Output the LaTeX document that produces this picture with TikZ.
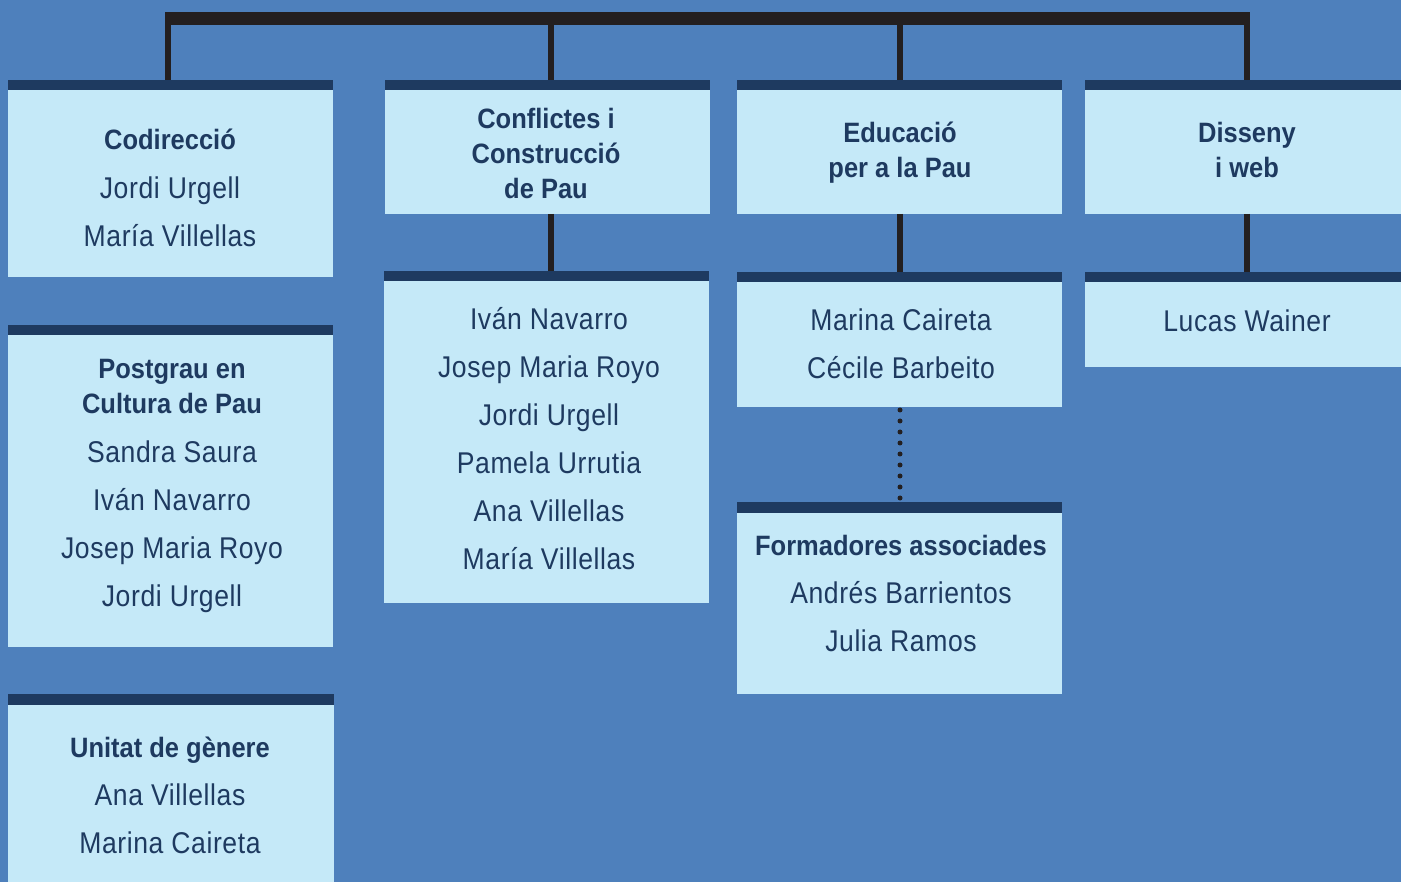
\documentclass[tikz,border=0pt]{standalone}
\usepackage{fontspec}
\setmainfont{Liberation Sans}[FakeStretch=0.91]
\newfontfamily\namefont{Liberation Sans}[FakeStretch=0.885,LetterSpace=2]
\definecolor{bgc}{HTML}{4E80BC}
\definecolor{boxc}{HTML}{C5E9F8}
\definecolor{barc}{HTML}{1E3A60}
\definecolor{navy}{HTML}{1E3A60}
\definecolor{linec}{HTML}{231F20}
\tikzset{
  box/.style={anchor=north west, fill=boxc, draw=none, inner sep=0, outer sep=0,
    path picture={\fill[barc] (path picture bounding box.north west) rectangle ([yshift=-10.5pt]path picture bounding box.north east);}},
  txt/.style={anchor=base, text=navy, inner sep=0, font=\namefont\fontsize{30}{36}\selectfont},
  ttl/.style={anchor=base, text=navy, inner sep=0, font=\bfseries\fontsize{28}{34}\selectfont},
  conn/.style={draw=linec, line width=6pt},
  topbar/.style={draw=linec, line width=13pt},
  dots/.style={draw=linec, line width=5pt, line cap=round, dash pattern=on 0pt off 11pt, dash phase=8pt}
}
\begin{document}
\begin{tikzpicture}[x=1pt,y=-1pt]
\useasboundingbox (0,0) rectangle (1401,882);
\fill[bgc] (0,0) rectangle (1401,882);
% boxes
\node[box, minimum width=325pt, minimum height=197pt] (c1a) at (8,80) {};
\node[box, minimum width=325pt, minimum height=322pt] (c1b) at (8,325) {};
\node[box, minimum width=326pt, minimum height=188pt] (c1c) at (8,694) {};
\node[box, minimum width=325pt, minimum height=134pt] (c2a) at (385,80) {};
\node[box, minimum width=325pt, minimum height=332pt] (c2b) at (384,271) {};
\node[box, minimum width=325pt, minimum height=134pt] (c3a) at (737,80) {};
\node[box, minimum width=325pt, minimum height=135pt] (c3b) at (737,272) {};
\node[box, minimum width=325pt, minimum height=192pt] (c3c) at (737,502) {};
\node[box, minimum width=316pt, minimum height=134pt] (c4a) at (1085,80) {};
\node[box, minimum width=316pt, minimum height=95pt] (c4b) at (1085,272) {};
% connectors
\coordinate (bl) at (165,19);
\coordinate (br) at (1250,19);
\coordinate (b1) at (168,19);
\coordinate (b2) at (551,19);
\coordinate (b3) at (900,19);
\coordinate (b4) at (1247,19);
\draw[topbar] (bl) -- (br);
\draw[conn] (b1) -- (b1 |- c1a.north);
\draw[conn] (b2) -- (b2 |- c2a.north);
\draw[conn] (b3) -- (b3 |- c3a.north);
\draw[conn] (b4) -- (b4 |- c4a.north);
\draw[conn] (b2 |- c2a.south) -- (b2 |- c2b.north);
\draw[conn] (b3 |- c3a.south) -- (b3 |- c3b.north);
\draw[conn] (b4 |- c4a.south) -- (b4 |- c4b.north);
\draw[dots] (b3 |- c3b.south) -- (b3 |- c3c.north);
% column 1
\node[ttl] (t1a1) at (170,150) {Codirecció};
\node[txt] (t1a2) at (170,198.5) {Jordi Urgell};
\node[txt] (t1a3) at (170,246.5) {María Villellas};
\node[ttl] (t1b1) at (172,379) {Postgrau en};
\node[ttl] (t1b2) at (172,414) {Cultura de Pau};
\node[txt] (t1b3) at (172,462.5) {Sandra Saura};
\node[txt] (t1b4) at (172,510.5) {Iván Navarro};
\node[txt] (t1b5) at (172,558.5) {Josep Maria Royo};
\node[txt] (t1b6) at (172,606.5) {Jordi Urgell};
\node[ttl] (t1c1) at (170,757) {Unitat de gènere};
\node[txt] (t1c2) at (170,805.5) {Ana Villellas};
\node[txt] (t1c3) at (170,853.5) {Marina Caireta};
% column 2
\node[ttl] (t2a1) at (546,129) {Conflictes i};
\node[ttl] (t2a2) at (546,164) {Construcció};
\node[ttl] (t2a3) at (546,199) {de Pau};
\node[txt] (t2b1) at (549,329.5) {Iván Navarro};
\node[txt] (t2b2) at (549,377.5) {Josep Maria Royo};
\node[txt] (t2b3) at (549,425.5) {Jordi Urgell};
\node[txt] (t2b4) at (549,473.5) {Pamela Urrutia};
\node[txt] (t2b5) at (549,521.5) {Ana Villellas};
\node[txt] (t2b6) at (549,569.5) {María Villellas};
% column 3
\node[ttl] (t3a1) at (900,143) {Educació};
\node[ttl] (t3a2) at (900,178) {per a la Pau};
\node[txt] (t3b1) at (901,330.5) {Marina Caireta};
\node[txt] (t3b2) at (901,378.5) {Cécile Barbeito};
\node[ttl] (t3c1) at (901,555) {Formadores associades};
\node[txt] (t3c2) at (901,603.5) {Andrés Barrientos};
\node[txt] (t3c3) at (901,651.5) {Julia Ramos};
% column 4
\node[ttl] (t4a1) at (1247,143) {Disseny};
\node[ttl] (t4a2) at (1247,178) {i web};
\node[txt] (t4b1) at (1247,331.5) {Lucas Wainer};
\end{tikzpicture}
\end{document}
